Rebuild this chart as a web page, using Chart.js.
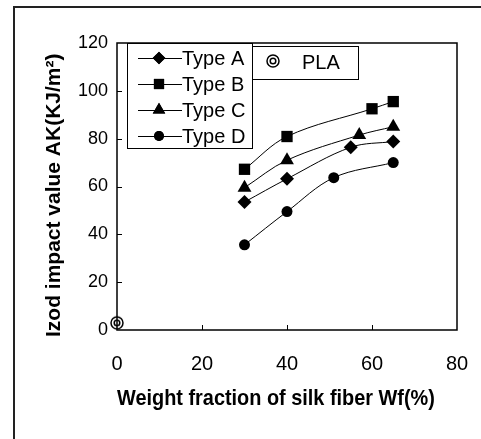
<!DOCTYPE html>
<html>
<head>
<meta charset="utf-8">
<script src="https://cdn.jsdelivr.net/npm/chart.js@4/dist/chart.umd.min.js"></script>
<style>
  html, body { margin: 0; padding: 0; background: #fff; }
  #wrap { width: 481px; height: 439px; position: relative; }
</style>
</head>
<body>
<div id="wrap"><canvas id="chart"></canvas></div>
<script>
// values
var wf_a = [30, 40, 55, 65];
var type_a = [53.5, 63.2, 76.4, 78.8];
var wf_b = [30, 40, 60, 65];
var type_b = [67.2, 80.9, 92.5, 95.5];
var wf_c = [30, 40, 57, 65];
var type_c = [59.5, 71, 81.5, 85];
var wf_d = [30, 40, 51, 65];
var type_d = [35.6, 49.5, 63.7, 70];
var wf_pla = [0];
var pla = [3];

var series_names = ['Type A', 'Type B', 'Type C', 'Type D'];
var x_ticks = [0, 20, 40, 60, 80];
var y_ticks = [0, 20, 40, 60, 80, 100, 120];

function pts(xs, ys) {
    var out = [];
    for (var i = 0; i < xs.length; i++) out.push({x: xs[i], y: ys[i]});
    return out;
}

// double circle marker used for PLA
function double_circle() {
    var c = document.createElement('canvas');
    c.width = 16; c.height = 16;
    var g = c.getContext('2d');
    g.strokeStyle = '#000';
    g.lineWidth = 1.5;
    g.beginPath(); g.arc(8, 8, 6, 0, Math.PI * 2); g.stroke();
    g.beginPath(); g.arc(8, 8, 2.8, 0, Math.PI * 2); g.stroke();
    return c;
}
var pla_marker = double_circle();

var styles = [
    {pointStyle: 'rectRot', pointRadius: 7},
    {pointStyle: 'rect', pointRadius: 8},
    {pointStyle: 'triangle', pointRadius: 8},
    {pointStyle: 'circle', pointRadius: 5.5}
];

function series(name, xs, ys, st) {
    return {
        label: name,
        data: pts(xs, ys),
        showLine: true,
        tension: 0.35,
        borderColor: '#000',
        borderWidth: 1,
        backgroundColor: '#000',
        pointBackgroundColor: '#000',
        pointBorderColor: '#000',
        pointBorderWidth: 0,
        pointStyle: st.pointStyle,
        pointRadius: st.pointRadius,
        clip: false
    };
}

var frame_plugin = {
    id: 'frame',
    afterDraw: function(chart) {
        var ctx = chart.ctx;
        var a = chart.chartArea;
        var xs = chart.scales.x, ys = chart.scales.y;
        ctx.save();
        // outer picture border (top and left only)
        ctx.strokeStyle = '#222';
        ctx.lineWidth = 2;
        ctx.beginPath();
        ctx.moveTo(14, 439); ctx.lineTo(14, 7); ctx.lineTo(481, 7);
        ctx.stroke();

        // plot frame
        ctx.strokeStyle = '#000';
        ctx.lineWidth = 1.5;
        ctx.strokeRect(a.left, a.top, a.right - a.left, a.bottom - a.top);

        // inside ticks
        ctx.lineWidth = 1;
        ctx.beginPath();
        for (var i = 1; i < x_ticks.length - 1; i++) {
            var px = Math.round(xs.getPixelForValue(x_ticks[i])) + 0.5;
            ctx.moveTo(px, a.bottom); ctx.lineTo(px, a.bottom - 5);
        }
        for (var j = 1; j < y_ticks.length - 1; j++) {
            var py = Math.round(ys.getPixelForValue(y_ticks[j])) + 0.5;
            ctx.moveTo(a.left, py); ctx.lineTo(a.left + 5, py);
        }
        ctx.stroke();

        // legend boxes
        ctx.fillStyle = '#fff';
        ctx.fillRect(252, 46, 106, 33);
        ctx.strokeRect(252.5, 46.5, 106, 33);
        ctx.fillRect(127, 43, 125, 105);
        ctx.strokeRect(127.5, 43.5, 125, 105);

        ctx.font = '20px "Liberation Sans", Arial, sans-serif';
        ctx.textBaseline = 'middle';
        ctx.fillStyle = '#000';
        for (var k = 0; k < series_names.length; k++) {
            var ly = 58 + k * 26;
            ctx.beginPath();
            ctx.moveTo(138, ly + 0.5); ctx.lineTo(182, ly + 0.5);
            ctx.stroke();
            Chart.helpers.drawPoint(ctx, {
                pointStyle: styles[k].pointStyle,
                radius: styles[k].pointRadius * 0.9,
                rotation: 0,
                borderWidth: 0
            }, 159, ly);
            ctx.fill();
            ctx.fillText(series_names[k], 182, ly + 1);
        }
        // PLA legend
        ctx.drawImage(pla_marker, 273 - 8, 61 - 8);
        ctx.fillText('PLA', 302, 63);
        ctx.restore();
    }
};

new Chart(document.getElementById('chart'), {
    type: 'scatter',
    data: {
        datasets: [
            series('Type A', wf_a, type_a, styles[0]),
            series('Type B', wf_b, type_b, styles[1]),
            series('Type C', wf_c, type_c, styles[2]),
            series('Type D', wf_d, type_d, styles[3]),
            {
                label: 'PLA',
                data: pts(wf_pla, pla),
                pointStyle: pla_marker,
                pointRadius: 7,
                showLine: false,
                clip: false
            }
        ]
    },
    options: {
        responsive: true,
        maintainAspectRatio: false,
        animation: false,
        events: [],
        layout: { padding: { top: 43, right: 24, left: 0, bottom: 0 } },
        plugins: {
            legend: { display: false },
            tooltip: { enabled: false }
        },
        scales: {
            x: {
                type: 'linear',
                min: 0,
                max: 80,
                afterFit: function(s) {
                    s.height = 109;
                    s.paddingLeft = 0;
                    s.paddingRight = 0;
                },
                afterBuildTicks: function(s) { s.ticks = x_ticks.map(function(v) { return {value: v}; }); },
                grid: { display: false, drawTicks: false },
                border: { display: false },
                ticks: {
                    padding: 22,
                    color: '#000',
                    font: { family: '"Liberation Sans", Arial, sans-serif', size: 20 }
                },
                title: {
                    display: true,
                    text: 'Weight fraction of silk fiber Wf(%)    ',
                    color: '#000',
                    padding: { top: 0, bottom: 27 },
                    font: { family: '"Liberation Sans", Arial, sans-serif', size: 22, weight: 'bold' }
                }
            },
            y: {
                min: 0,
                max: 120,
                afterFit: function(s) {
                    s.width = 117;
                    s.paddingTop = 0;
                    s.paddingBottom = 0;
                },
                afterBuildTicks: function(s) { s.ticks = y_ticks.map(function(v) { return {value: v}; }); },
                grid: { display: false, drawTicks: false },
                border: { display: false },
                ticks: {
                    padding: 9,
                    color: '#000',
                    font: { family: '"Liberation Sans", Arial, sans-serif', size: 18 }
                },
                title: {
                    display: true,
                    text: 'Izod impact value AK(KJ/m²)   ',
                    color: '#000',
                    padding: { top: 42, bottom: 0 },
                    font: { family: '"Liberation Sans", Arial, sans-serif', size: 21, weight: 'bold' }
                }
            }
        }
    },
    plugins: [frame_plugin]
});
</script>
</body>
</html>
